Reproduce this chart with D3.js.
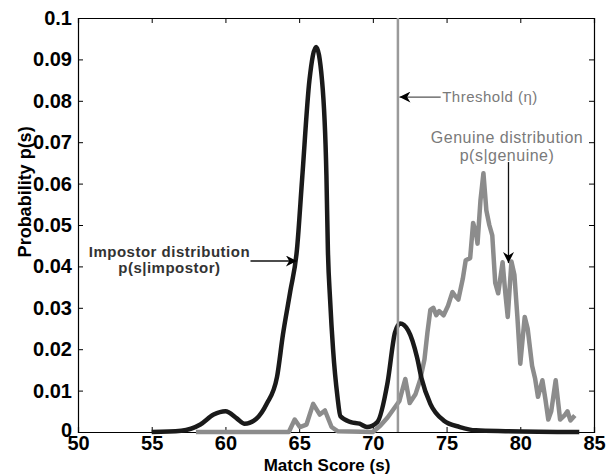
<!DOCTYPE html>
<html>
<head>
<meta charset="utf-8">
<script src="https://cdn.jsdelivr.net/npm/d3@7"></script>
<style>
  html, body { margin: 0; padding: 0; background: #fff; }
  svg { display: block; font-family: "Liberation Sans", Arial, sans-serif; }
</style>
</head>
<body>
<svg id="chart" width="609" height="475"></svg>
<script>
// impostor distribution p(s|impostor)
const impostorScore = [55, 57, 58.3, 59.2, 60.0, 60.8, 61.3, 62.1, 62.8, 63.5, 63.9, 64.4, 64.85, 65.2, 65.7, 66.15, 66.55, 66.85, 66.95, 67.1, 67.3, 67.6, 67.8, 68.5, 69.1, 69.6, 70.3, 71.0, 71.5, 71.85, 72.4, 73.0, 73.3, 73.9, 74.8, 75.9, 77, 79, 84];
const impostorProb = [0, 0.0003, 0.0018, 0.0042, 0.0050, 0.0032, 0.0020, 0.0032, 0.0068, 0.0133, 0.0235, 0.0340, 0.0440, 0.0610, 0.0850, 0.0930, 0.0850, 0.0620, 0.0440, 0.0320, 0.0200, 0.0085, 0.0038, 0.0024, 0.0020, 0.0012, 0.0024, 0.0120, 0.0240, 0.0262, 0.0245, 0.0180, 0.0130, 0.0068, 0.0028, 0.0012, 0.0004, 0.0002, 0];

// genuine distribution p(s|genuine)
const genuineScore = [58, 64.3, 64.7, 65.05, 65.5, 65.95, 66.4, 66.75, 67.2, 67.6, 70.0, 70.5, 71.0, 71.4, 71.8, 72.2, 72.5, 72.9, 73.2, 73.5, 73.7, 73.9, 74.1, 74.3, 74.5, 74.8, 75.1, 75.4, 75.6, 75.8, 76.1, 76.3, 76.6, 76.8, 77.0, 77.1, 77.3, 77.5, 77.7, 77.9, 78.1, 78.3, 78.5, 78.8, 79.0, 79.15, 79.4, 79.6, 79.8, 80.0, 80.3, 80.5, 80.8, 81.0, 81.2, 81.5, 81.7, 81.9, 82.1, 82.4, 82.7, 83.0, 83.2, 83.4, 83.7];
const genuineProb = [0, 0, 0.0030, 0.0012, 0.0018, 0.0068, 0.0042, 0.0052, 0.0012, 0.0002, 0, 0.0015, 0.0035, 0.0055, 0.0075, 0.0128, 0.0070, 0.0092, 0.0125, 0.0175, 0.0240, 0.0295, 0.0300, 0.0282, 0.0292, 0.0282, 0.0305, 0.0338, 0.0328, 0.0320, 0.0370, 0.0415, 0.0420, 0.0505, 0.0480, 0.0455, 0.0560, 0.0625, 0.0535, 0.0500, 0.0475, 0.0360, 0.0335, 0.0410, 0.0330, 0.0278, 0.0412, 0.0380, 0.0280, 0.0165, 0.0278, 0.0250, 0.0160, 0.0130, 0.0085, 0.0125, 0.0080, 0.0030, 0.0050, 0.0125, 0.0030, 0.0040, 0.0050, 0.0028, 0.0040];

const threshold = 71.7;

const xTicks = [50, 55, 60, 65, 70, 75, 80, 85];
const yTicks = [0, 0.01, 0.02, 0.03, 0.04, 0.05, 0.06, 0.07, 0.08, 0.09, 0.1];

const margin = { top: 18, right: 15, bottom: 43, left: 78 };
const W = 609, H = 475;
const w = W - margin.left - margin.right;
const h = H - margin.top - margin.bottom;

const svg = d3.select('#chart');
const g = svg.append('g').attr('transform', `translate(${margin.left},${margin.top})`);

const x = d3.scaleLinear().domain([50, 85]).range([0, w]);
const y = d3.scaleLinear().domain([0, 0.1]).range([h, 0]);

const fmtY = d => d === 0 ? '0' : d3.format('.2~f')(d);

// axes, matlab style: ticks inside, box on
const tickLen = 5;
g.append('g').attr('class', 'axis').attr('transform', `translate(0,${h})`)
  .call(d3.axisBottom(x).tickValues(xTicks).tickSize(-tickLen).tickPadding(4));
const yAxisG = g.append('g').attr('class', 'axis')
  .call(d3.axisLeft(y).tickValues(yTicks).tickSize(-tickLen).tickPadding(6).tickFormat(fmtY));
g.append('g').attr('class', 'axis')
  .call(d3.axisTop(x).tickValues(xTicks).tickSize(-tickLen).tickFormat(''));
g.append('g').attr('class', 'axis').attr('transform', `translate(${w},0)`)
  .call(d3.axisRight(y).tickValues(yTicks).tickSize(-tickLen).tickFormat(''));

g.selectAll('.axis path').attr('stroke', '#000').attr('stroke-width', 1.2);
g.selectAll('.axis line').attr('stroke', '#000');
g.selectAll('.axis text')
  .attr('fill', '#000')
  .style('font-size', '20px')
  .style('font-weight', 'bold');
// the "0" sits a touch above the corner, like the original
yAxisG.selectAll('.tick text').filter(d => d === 0).attr('dy', '0.2em');

// curves
const impostor = impostorScore.map((s, i) => [s, impostorProb[i]]);
const genuine = genuineScore.map((s, i) => [s, genuineProb[i]]);

const lineSmooth = d3.line().x(d => x(d[0])).y(d => y(d[1])).curve(d3.curveMonotoneX);
const lineRough = d3.line().x(d => x(d[0])).y(d => y(d[1]));

g.append('path').datum(genuine)
  .attr('d', lineRough)
  .attr('fill', 'none')
  .attr('stroke', '#8c8c8c')
  .attr('stroke-width', 4.5)
  .attr('stroke-linejoin', 'round');

g.append('path').datum(impostor)
  .attr('d', lineSmooth)
  .attr('fill', 'none')
  .attr('stroke', '#1a1a1a')
  .attr('stroke-width', 4.5)
  .attr('stroke-linejoin', 'round');

// threshold
g.append('line')
  .attr('x1', x(threshold)).attr('x2', x(threshold))
  .attr('y1', y(0.1)).attr('y2', y(0))
  .attr('stroke', '#9a9a9a').attr('stroke-width', 2.5);

// arrows
svg.append('defs').append('marker')
  .attr('id', 'head').attr('viewBox', '0 0 10 10')
  .attr('refX', 10).attr('refY', 5)
  .attr('markerWidth', 12).attr('markerHeight', 11)
  .attr('markerUnits', 'userSpaceOnUse')
  .attr('orient', 'auto')
  .append('path').attr('d', 'M0,0 L10,5 L0,10 L3,5 Z').attr('fill', '#000');

function arrow(x1, y1, x2, y2, col) {
  g.append('line')
    .attr('x1', x(x1)).attr('y1', y(y1))
    .attr('x2', x(x2)).attr('y2', y(y2))
    .attr('stroke', col).attr('stroke-width', 1.3)
    .attr('marker-end', 'url(#head)');
}
arrow(74.6, 0.0809, x.invert(x(threshold) + 1.5), 0.0809, '#555');
arrow(79.2, 0.0652, 79.2, 0.0408, '#111');
arrow(61.7, 0.0413, 64.85, 0.0413, '#111');

// annotation text
const note = (sx, sy, txt, anchor, col, size) =>
  g.append('text').attr('x', x(sx)).attr('y', y(sy))
    .attr('text-anchor', anchor)
    .attr('fill', col)
    .style('font-size', size + 'px')
    .style('letter-spacing', '0.5px')
    .text(txt);

note(74.7, 0.0797, 'Threshold (η)', 'start', '#7a7a7a', 15);
note(79.1, 0.0699, 'Genuine distribution', 'middle', '#7a7a7a', 16);
note(79.1, 0.0655, 'p(s|genuine)', 'middle', '#7a7a7a', 16);
note(56.2, 0.0423, 'Impostor distribution', 'middle', '#333', 15).style('font-weight', 'bold');
note(56.2, 0.0384, 'p(s|impostor)', 'middle', '#333', 15).style('font-weight', 'bold');

// axis titles
svg.append('text')
  .attr('x', 327).attr('y', 471)
  .attr('text-anchor', 'middle')
  .style('font-size', '17px').style('font-weight', 'bold')
  .text('Match Score (s)');

svg.append('text')
  .attr('transform', `translate(31,${y(0.058) + margin.top}) rotate(-90)`)
  .attr('text-anchor', 'middle')
  .style('font-size', '18px').style('font-weight', 'bold')
  .text('Probability p(s)');
</script>
</body>
</html>
